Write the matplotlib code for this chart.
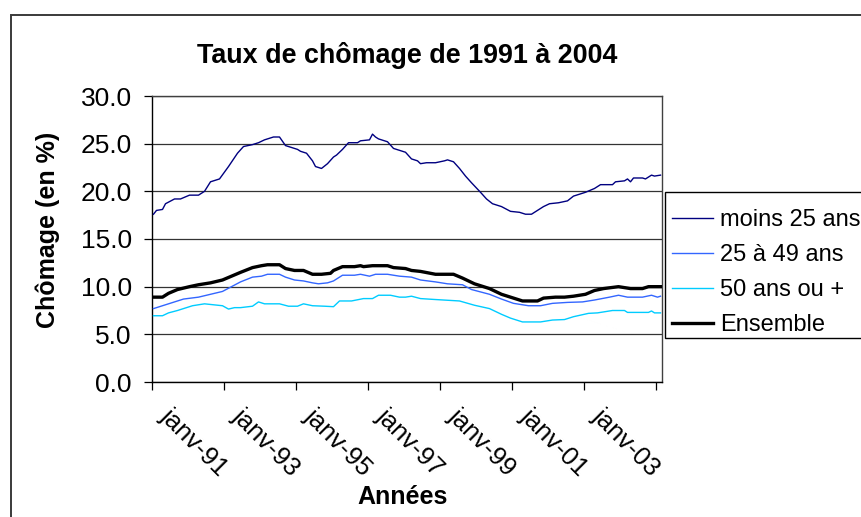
import numpy as np
import matplotlib
matplotlib.use("Agg")
import matplotlib.pyplot as plt
import matplotlib.transforms as mtransforms
from matplotlib.patches import Rectangle
from matplotlib.lines import Line2D

plt.rcParams['font.family'] = ['Liberation Sans', 'DejaVu Sans']

# ---------------- data (months since janv-91) ----------------
title = "Taux de chômage de 1991 à 2004"
series_names = ["moins 25 ans", "25 à 49 ans", "50 ans ou +", "Ensemble"]
tick_labels = ["janv-91", "janv-93", "janv-95", "janv-97", "janv-99", "janv-01", "janv-03"]

m_moins25 = [0, 1, 3, 4, 7, 9, 12, 15, 17, 19, 22, 25, 28, 30, 33, 35, 37, 40, 42, 44,
             47, 48, 49, 51, 53, 54, 56, 58, 60, 61, 63, 65, 68, 69, 72, 73, 74, 75, 78, 80,
             84, 86, 88, 89, 91, 94, 97, 98, 100, 102, 104, 106, 109, 111, 113, 116, 119, 122,
             124, 126, 128, 130, 132, 135, 138, 140, 144, 147, 149, 153, 154, 157, 158, 159,
             160, 163, 164, 166, 167, 169]
v_moins25 = [17.6, 18.0, 18.1, 18.7, 19.2, 19.2, 19.6, 19.6, 20.0, 21.0, 21.3, 22.6, 24.0, 24.7,
             24.9, 25.1, 25.4, 25.7, 25.7, 24.8, 24.5, 24.4, 24.2, 24.0, 23.2, 22.6, 22.4, 22.9,
             23.6, 23.8, 24.4, 25.1, 25.1, 25.3, 25.4, 26.0, 25.7, 25.5, 25.2, 24.5, 24.1, 23.4,
             23.2, 22.9, 23.0, 23.0, 23.2, 23.3, 23.1, 22.4, 21.6, 20.9, 19.9, 19.2, 18.7, 18.4,
             17.9, 17.8, 17.6, 17.6, 18.0, 18.4, 18.7, 18.8, 19.0, 19.5, 19.9, 20.3, 20.7, 20.7,
             21.0, 21.1, 21.3, 21.0, 21.4, 21.4, 21.3, 21.7, 21.6, 21.7]

m_2549 = [0, 3, 6, 10, 15, 19, 23, 26, 29, 33, 36, 38, 42, 44, 47, 50, 53, 55, 58, 60, 63, 67,
          69, 72, 74, 78, 82, 86, 89, 94, 98, 103, 106, 112, 116, 120, 125, 129, 133, 138, 143,
          147, 152, 155, 158, 163, 166, 168, 169]
v_2549 = [7.7, 8.0, 8.3, 8.7, 8.9, 9.2, 9.5, 10.0, 10.5, 11.0, 11.1, 11.3, 11.3, 11.0, 10.7,
          10.6, 10.4, 10.3, 10.4, 10.6, 11.2, 11.2, 11.3, 11.1, 11.3, 11.3, 11.1, 11.0, 10.7,
          10.5, 10.3, 10.2, 9.7, 9.2, 8.7, 8.25, 8.0, 8.0, 8.25, 8.35, 8.4, 8.6, 8.9, 9.1, 8.9,
          8.9, 9.1, 8.9, 9.0]

m_50 = [0, 3, 5, 8, 10, 13, 17, 20, 23, 25, 27, 29, 33, 35, 37, 42, 45, 48, 50, 53, 57, 60,
        62, 66, 70, 73, 75, 79, 82, 84, 86, 89, 94, 102, 107, 112, 116, 119, 123, 129, 133,
        137, 140, 145, 148, 153, 157, 158, 165, 166, 167, 169]
v_50 = [6.95, 6.95, 7.25, 7.5, 7.7, 8.0, 8.2, 8.1, 8.0, 7.65, 7.8, 7.8, 7.95, 8.4, 8.2, 8.2,
        7.95, 7.95, 8.2, 8.0, 7.95, 7.9, 8.5, 8.5, 8.75, 8.75, 9.1, 9.1, 8.9, 8.9, 9.0, 8.75,
        8.65, 8.5, 8.05, 7.7, 7.1, 6.7, 6.3, 6.3, 6.5, 6.55, 6.85, 7.2, 7.25, 7.5, 7.5, 7.3,
        7.3, 7.45, 7.25, 7.25]

m_ens = [0, 3, 5, 8, 12, 15, 19, 23, 26, 29, 33, 36, 38, 42, 44, 47, 50, 53, 56, 59, 60, 63,
         67, 69, 70, 73, 78, 80, 84, 86, 89, 94, 100, 103, 107, 112, 116, 120, 123, 128, 130,
         134, 137, 140, 144, 147, 150, 155, 159, 163, 165, 169]
v_ens = [8.9, 8.9, 9.3, 9.7, 10.0, 10.2, 10.4, 10.7, 11.1, 11.5, 12.0, 12.2, 12.3, 12.3, 11.9,
         11.7, 11.7, 11.3, 11.3, 11.4, 11.7, 12.1, 12.1, 12.2, 12.1, 12.2, 12.2, 12.0, 11.9,
         11.7, 11.6, 11.3, 11.3, 10.9, 10.3, 9.8, 9.2, 8.8, 8.5, 8.5, 8.8, 8.9, 8.9, 9.0, 9.2,
         9.6, 9.8, 10.0, 9.8, 9.8, 10.0, 10.0]

n_months = 170
y_ticks = [0, 5, 10, 15, 20, 25, 30]

# ---------------- figure ----------------
W, H = 861, 517
fig = plt.figure(figsize=(W / 100, H / 100), dpi=100)


def fx(px):
    return px / W


def fy(py):
    return 1 - py / H


# outer chart border (clipped at right/bottom)
fig.patches.append(Rectangle((fx(11), -0.2), 1.5, fy(15) + 0.2, transform=fig.transFigure,
                             fill=False, ec='#3a3a3a', lw=1.4))

ax = fig.add_axes([fx(152), fy(382), (662 - 152) / W, (382 - 96) / H])

colors = ['#000080', '#3366FF', '#00CCFF', '#000000']
widths = [1.0, 1.0, 1.0, 2.4]
xs = [m_moins25, m_2549, m_50, m_ens]
ys = [v_moins25, v_2549, v_50, v_ens]
handles = []
for name, mx, vy, c, lw in zip(series_names, xs, ys, colors, widths):
    ax.plot(np.array(mx) + 0.5, vy, color=c, lw=lw, label=name, zorder=3)
    handles.append(Line2D([], [], color=c, lw=lw))

ax.set_xlim(0, n_months)
ax.set_ylim(0, 30)
ax.set_yticks(y_ticks)
ax.set_yticklabels([f"{v:.1f}" for v in y_ticks], fontsize=19)
ax.set_xticks(list(range(0, n_months, 24)))
ax.set_xticklabels([])
ax.tick_params(axis='both', direction='out', length=6, width=0.9, color='black')
ax.tick_params(axis='y', pad=8.5)
ax.yaxis.grid(True, color='#333333', lw=0.9)
ax.set_axisbelow(True)
for s in ['left', 'bottom']:
    ax.spines[s].set_color('black')
    ax.spines[s].set_linewidth(1.0)
for s in ['top', 'right']:
    ax.spines[s].set_color('#404040')
    ax.spines[s].set_linewidth(1.0)

# rotated x tick labels
off = mtransforms.ScaledTranslation(21 / 100, -22 / 100, fig.dpi_scale_trans)
for i, lab in enumerate(tick_labels):
    ax.text(i * 24, 0, lab, transform=ax.get_xaxis_transform() + off, rotation=-45,
            rotation_mode='anchor', ha='left', va='top', fontsize=18.5)

fig.text(fx(407), fy(63), title, ha='center', va='baseline', fontsize=19.4, fontweight='bold')
fig.text(fx(48), fy(230), "Chômage (en %)", rotation=90, ha='center', va='center',
         fontsize=18, fontweight='bold')
fig.text(fx(403), fy(497), "Années", ha='center', va='center', fontsize=18, fontweight='bold')

# legend frame (clipped at the right edge) and entries
fig.patches.append(Rectangle((fx(665), fy(338)), 0.5, (338 - 192) / H, transform=fig.transFigure,
                             fill=True, fc='white', ec='black', lw=1.0, zorder=4))
leg = fig.legend(handles, series_names, loc='upper left', bbox_to_anchor=(fx(665), fy(202)),
                 bbox_transform=fig.transFigure, frameon=False, fontsize=17, handlelength=1.74,
                 handletextpad=0.31, labelspacing=0.55, borderpad=0.3, borderaxespad=0)
leg.set_zorder(5)

fig.savefig("out.png", dpi=100)
